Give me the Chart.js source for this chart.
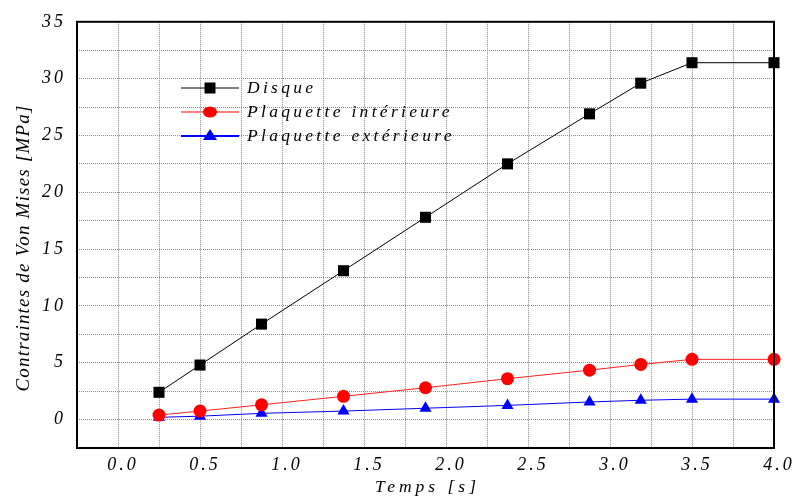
<!DOCTYPE html>
<html>
<head>
<meta charset="utf-8">
<script src="https://cdn.jsdelivr.net/npm/chart.js@4"></script>
<style>
  html, body { margin: 0; padding: 0; background: #fff; }
  #wrap { width: 796px; height: 500px; }
</style>
</head>
<body>
<div id="wrap"><canvas id="chart"></canvas></div>
<script>
const temps = [0.25, 0.5, 0.875, 1.375, 1.875, 2.375, 2.875, 3.1875, 3.5, 4.0];
const disque = [2.4, 4.8, 8.4, 13.1, 17.8, 22.5, 26.9, 29.6, 31.4, 31.4];
const plaqInt = [0.4, 0.75, 1.3, 2.05, 2.8, 3.6, 4.35, 4.85, 5.3, 5.3];
const plaqExt = [0.2, 0.3, 0.55, 0.75, 1.0, 1.25, 1.55, 1.7, 1.8, 1.8];
const seriesNames = ["Disque", "Plaquette intérieure", "Plaquette extérieure"];

const FONT = "'Liberation Serif', 'Times New Roman', serif";

const toPoints = vals => vals.map((v, i) => ({ x: temps[i], y: v }));

const framePlugin = {
  id: "frame",
  beforeDraw(chart) {
    chart.ctx.letterSpacing = "3px";
  },
  afterDraw(chart) {
    const { ctx, chartArea: a } = chart;
    ctx.save();
    // box around the plot
    ctx.strokeStyle = "#000";
    ctx.lineWidth = 2;
    ctx.strokeRect(a.left, a.top, a.right - a.left, a.bottom - a.top);

    // legend inside plot
    const legend = [
      { line: "#000", fill: "#000", style: "rect", y: 88 },
      { line: "#ff8080", fill: "#ff0000", style: "circle", y: 112 },
      { line: "#0000ff", fill: "#0000ff", style: "triangle", y: 136 }
    ];
    ctx.font = "italic 17.5px " + FONT;
    ctx.letterSpacing = "3.3px";
    ctx.textBaseline = "middle";
    ctx.textAlign = "left";
    legend.forEach((l, i) => {
      ctx.strokeStyle = l.line;
      ctx.lineWidth = i === 0 ? 1 : 2;
      ctx.beginPath();
      ctx.moveTo(181, l.y);
      ctx.lineTo(239, l.y);
      ctx.stroke();
      ctx.fillStyle = l.fill;
      ctx.beginPath();
      if (l.style === "rect") ctx.rect(204.5, l.y - 5.5, 11, 11);
      else if (l.style === "circle") ctx.ellipse(210, l.y, 7, 5.5, 0, 0, Math.PI * 2);
      else { ctx.moveTo(210, l.y - 7); ctx.lineTo(217, l.y + 4); ctx.lineTo(203, l.y + 4); ctx.closePath(); }
      ctx.fill();
      ctx.fillStyle = "#000";
      ctx.fillText(seriesNames[i], 247, l.y);
    });

    // axis titles
    ctx.fillStyle = "#000";
    ctx.font = "italic 17.5px " + FONT;
    ctx.letterSpacing = "4px";
    ctx.textAlign = "center";
    ctx.fillText("Temps [s]", (a.left + a.right) / 2 + 2, 487);
    ctx.translate(24, 248);
    ctx.rotate(-Math.PI / 2);
    ctx.font = "italic 19px " + FONT;
    ctx.letterSpacing = "1.2px";
    ctx.fillText("Contraintes de Von Mises [MPa]", 0, 0);
    ctx.restore();
  }
};

new Chart(document.getElementById("chart"), {
  type: "line",
  data: {
    datasets: [
      {
        label: seriesNames[0],
        data: toPoints(disque),
        borderColor: "#000",
        backgroundColor: "#000",
        borderWidth: 1,
        pointStyle: "rect",
        pointRadius: 7.8,
        pointBorderWidth: 0
      },
      {
        label: seriesNames[1],
        data: toPoints(plaqInt),
        borderColor: "#ff2020",
        backgroundColor: "#ff0000",
        borderWidth: 1,
        pointStyle: "circle",
        pointRadius: 6.5,
        pointBorderWidth: 0
      },
      {
        label: seriesNames[2],
        data: toPoints(plaqExt),
        borderColor: "#0000ff",
        backgroundColor: "#0000ff",
        borderWidth: 1,
        pointStyle: "triangle",
        pointRadius: 7,
        pointBorderWidth: 0
      }
    ]
  },
  options: {
    responsive: true,
    maintainAspectRatio: false,
    animation: false,
    clip: false,
    layout: { padding: { top: 17, right: 22, left: 0, bottom: 0 } },
    plugins: {
      legend: { display: false },
      tooltip: { enabled: false }
    },
    scales: {
      x: {
        type: "linear",
        min: -0.25,
        max: 4.0,
        afterFit: s => { s.height = 52; },
        ticks: {
          stepSize: 0.25,
          autoSkip: false,
          maxRotation: 0,
          padding: 6,
          labelOffset: 5,
          color: "#000",
          font: { family: FONT, size: 18, style: "italic" },
          callback: v => (v >= 0 && Math.abs(v * 2 - Math.round(v * 2)) < 1e-6) ? v.toFixed(1) : ""
        },
        grid: { color: "#8a8a8a", lineWidth: 1, drawTicks: false },
        border: { display: false, dash: [1, 1] }
      },
      y: {
        min: -2.5,
        max: 35,
        afterFit: s => { s.width = 77; },
        ticks: {
          stepSize: 2.5,
          autoSkip: false,
          padding: 11,
          color: "#000",
          font: { family: FONT, size: 18, style: "italic" },
          callback: v => (v >= 0 && v % 5 === 0) ? String(v) : ""
        },
        grid: { color: "#8a8a8a", lineWidth: 1, drawTicks: false },
        border: { display: false, dash: [1, 1] }
      }
    }
  },
  plugins: [framePlugin]
});
</script>
</body>
</html>
